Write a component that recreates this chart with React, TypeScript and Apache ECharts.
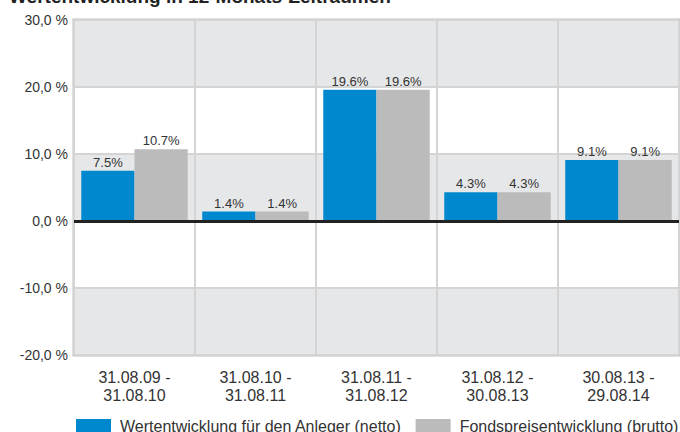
import React, { useEffect, useRef } from "react";
import * as echarts from "echarts";

const categories = [
  "31.08.09 -\n31.08.10",
  "31.08.10 -\n31.08.11",
  "31.08.11 -\n31.08.12",
  "31.08.12 -\n30.08.13",
  "30.08.13 -\n29.08.14",
];
const netto = [7.5, 1.4, 19.6, 4.3, 9.1];
const brutto = [10.7, 1.4, 19.6, 4.3, 9.1];
const seriesNames = [
  "Wertentwicklung für den Anleger (netto)",
  "Fondspreisentwicklung (brutto)",
];
const title = "Wertentwicklung in 12-Monats-Zeiträumen";

export default function App() {
  const ref = useRef<HTMLDivElement>(null);
  useEffect(() => {
    if (!ref.current) return;
    const chart = echarts.init(ref.current, null, { renderer: "svg" });
    const font = "'Liberation Sans', Arial, sans-serif";
    const label = {
      show: true,
      position: "top" as const,
      distance: 2,
      formatter: (p: any) => p.value.toFixed(1) + "%",
      color: "#333",
      fontSize: 13,
      fontFamily: font,
    };
    chart.setOption({
      animation: false,
      textStyle: { fontFamily: font },
      title: {
        text: title,
        left: 9,
        top: -13,
        padding: 0,
        textStyle: { fontSize: 19, fontWeight: "bold", color: "#222", fontFamily: font },
      },
      grid: {
        left: 74,
        right: 1,
        top: 20,
        bottom: 77,
        show: true,
        borderColor: "#c0c0c0",
        borderWidth: 3,
        backgroundColor: "transparent",
      },
      legend: {
        left: 76,
        top: 418,
        padding: 0,
        itemWidth: 35,
        itemHeight: 14,
        itemGap: 14,
        icon: "rect",
        textStyle: { fontSize: 16, color: "#333", fontFamily: font, padding: [0, 0, 2, 4] },
        data: seriesNames,
      },
      xAxis: {
        type: "category",
        data: categories,
        offset: 12,
        axisLine: { show: false },
        axisTick: { show: true, length: 38, lineStyle: { color: "#d4d4d4", width: 2 } },
        axisLabel: { color: "#333", fontSize: 16, lineHeight: 18, margin: 1, fontFamily: font },
        splitLine: { show: true, lineStyle: { color: "#d4d4d4", width: 2 } },
      },
      yAxis: {
        type: "value",
        min: -20,
        max: 30,
        interval: 10,
        axisLine: { show: false },
        axisTick: { show: false },
        axisLabel: {
          color: "#333",
          fontSize: 14,
          margin: 6,
          fontFamily: font,
          formatter: (v: number) => v.toFixed(1).replace(".", ",") + " %",
        },
        splitLine: { show: true, lineStyle: { color: "#d4d4d4", width: 2 } },
        splitArea: { show: true, areaStyle: { color: ["#e6e7e9", "#ffffff"] } },
      },
      series: [
        {
          name: seriesNames[0],
          type: "bar",
          data: netto,
          barGap: "0%",
          barCategoryGap: "12%",
          itemStyle: { color: "#0088cf" },
          label,
          markLine: {
            silent: true,
            symbol: "none",
            label: { show: false },
            lineStyle: { color: "#222", width: 3, type: "solid" },
            data: [{ yAxis: 0 }],
          },
        },
        {
          name: seriesNames[1],
          type: "bar",
          data: brutto,
          itemStyle: { color: "#bbbbbb" },
          label,
        },
      ],
    });
    return () => chart.dispose();
  }, []);
  return (
    <div
      ref={ref}
      style={{ position: "fixed", left: 0, top: 0, width: 680, height: 432, background: "#fff" }}
    />
  );
}
